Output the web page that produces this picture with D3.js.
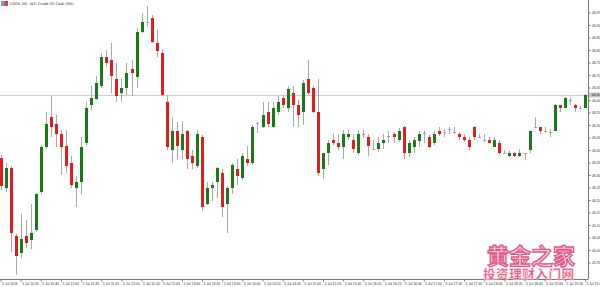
<!DOCTYPE html>
<html>
<head>
<meta charset="utf-8">
<script src="https://cdn.jsdelivr.net/npm/d3@7"></script>
<style>
  body { margin: 0; background: #fff; }
  svg { display: block; }
</style>
</head>
<body>
<div id="chart"></div>
<script>
// USOIL M5 candles (oldest first)
const opens = [
  46.368, 46.248, 46.328, 46.056, 45.988, 46.056, 46.040, 46.080, 46.232, 46.412,
  46.532, 46.504, 46.464, 46.416, 46.348, 46.248, 46.272, 46.428, 46.580, 46.604,
  46.656, 46.772, 46.760, 46.684, 46.628, 46.648, 46.724, 46.692, 46.872, 46.912,
  46.928, 46.828, 46.788, 46.592, 46.400, 46.476, 46.400, 46.476, 46.376, 46.336,
  46.452, 46.184, 46.248, 46.272, 46.308, 46.184, 46.248, 46.324, 46.288, 46.364,
  46.348, 46.508, 46.492, 46.552, 46.492, 46.552, 46.608, 46.568, 46.628, 46.580,
  46.552, 46.684, 46.648, 46.552, 46.324, 46.388, 46.440, 46.428, 46.412, 46.452,
  46.440, 46.388, 46.464, 46.452, 46.404, 46.404, 46.428, 46.456, 46.464, 46.440,
  46.492, 46.388, 46.412, 46.436, 46.468, 46.452, 46.428, 46.476, 46.472, 46.484,
  46.472, 46.464, 46.452, 46.440, 46.492, 46.452, 46.440, 46.440, 46.412, 46.428,
  46.388, 46.376, 46.388, 46.376, 46.388, 46.400, 46.492, 46.492, 46.476, 46.472,
  46.476, 46.580, 46.568, 46.600, 46.580, 46.568, 46.568
];
const highs = [
  46.380, 46.348, 46.336, 46.064, 46.144, 46.120, 46.184, 46.228, 46.420, 46.552,
  46.616, 46.540, 46.480, 46.480, 46.376, 46.296, 46.452, 46.592, 46.656, 46.696,
  46.788, 46.800, 46.828, 46.748, 46.684, 46.748, 46.760, 46.888, 46.948, 46.976,
  46.940, 46.880, 46.800, 46.620, 46.532, 46.512, 46.516, 46.480, 46.400, 46.480,
  46.460, 46.272, 46.272, 46.332, 46.324, 46.256, 46.348, 46.364, 46.388, 46.416,
  46.500, 46.512, 46.592, 46.592, 46.592, 46.616, 46.620, 46.656, 46.656, 46.600,
  46.680, 46.760, 46.656, 46.684, 46.388, 46.440, 46.464, 46.464, 46.480, 46.480,
  46.464, 46.480, 46.480, 46.464, 46.440, 46.452, 46.464, 46.476, 46.472, 46.488,
  46.496, 46.440, 46.452, 46.476, 46.476, 46.460, 46.476, 46.492, 46.484, 46.492,
  46.492, 46.472, 46.464, 46.452, 46.496, 46.464, 46.464, 46.452, 46.452, 46.440,
  46.400, 46.396, 46.392, 46.404, 46.388, 46.476, 46.532, 46.492, 46.492, 46.484,
  46.584, 46.580, 46.612, 46.608, 46.584, 46.576, 46.624
];
const lows = [
  46.240, 46.232, 45.992, 45.900, 45.968, 46.008, 46.004, 46.072, 46.224, 46.404,
  46.452, 46.412, 46.300, 46.308, 46.248, 46.172, 46.224, 46.420, 46.560, 46.600,
  46.648, 46.732, 46.628, 46.592, 46.592, 46.620, 46.616, 46.648, 46.868, 46.892,
  46.828, 46.772, 46.616, 46.400, 46.348, 46.360, 46.364, 46.324, 46.324, 46.328,
  46.156, 46.180, 46.196, 46.208, 46.132, 46.068, 46.224, 46.260, 46.280, 46.336,
  46.340, 46.468, 46.488, 46.492, 46.488, 46.540, 46.568, 46.552, 46.492, 46.492,
  46.500, 46.620, 46.548, 46.296, 46.284, 46.340, 46.420, 46.400, 46.364, 46.440,
  46.388, 46.380, 46.448, 46.376, 46.400, 46.392, 46.404, 46.428, 46.428, 46.432,
  46.364, 46.372, 46.388, 46.412, 46.428, 46.408, 46.420, 46.456, 46.452, 46.464,
  46.464, 46.440, 46.432, 46.400, 46.440, 46.448, 46.432, 46.428, 46.412, 46.384,
  46.384, 46.372, 46.372, 46.372, 46.360, 46.388, 46.488, 46.464, 46.468, 46.452,
  46.476, 46.552, 46.568, 46.580, 46.552, 46.560, 46.568
];
const closes = [
  46.256, 46.328, 46.068, 45.976, 46.044, 46.028, 46.068, 46.224, 46.412, 46.504,
  46.492, 46.464, 46.412, 46.336, 46.260, 46.272, 46.412, 46.568, 46.608, 46.668,
  46.772, 46.748, 46.696, 46.616, 46.648, 46.708, 46.708, 46.872, 46.912, 46.912,
  46.832, 46.796, 46.620, 46.412, 46.476, 46.416, 46.464, 46.364, 46.348, 46.464,
  46.172, 46.248, 46.260, 46.328, 46.172, 46.248, 46.340, 46.296, 46.376, 46.348,
  46.492, 46.508, 46.540, 46.504, 46.568, 46.592, 46.580, 46.644, 46.580, 46.540,
  46.668, 46.628, 46.552, 46.308, 46.388, 46.428, 46.428, 46.412, 46.464, 46.464,
  46.404, 46.464, 46.464, 46.416, 46.404, 46.428, 46.440, 46.456, 46.452, 46.476,
  46.388, 46.428, 46.440, 46.464, 46.468, 46.412, 46.464, 46.464, 46.472, 46.484,
  46.472, 46.452, 46.440, 46.412, 46.452, 46.452, 46.440, 46.428, 46.440, 46.388,
  46.388, 46.388, 46.376, 46.388, 46.388, 46.476, 46.492, 46.476, 46.476, 46.472,
  46.580, 46.568, 46.608, 46.600, 46.568, 46.568, 46.620
];

// price scale labels
const priceTicks = [
  45.95, 46.00, 46.05, 46.10, 46.15, 46.20, 46.25, 46.30, 46.35, 46.40, 46.45,
  46.50, 46.55, 46.60, 46.65, 46.70, 46.75, 46.80, 46.85, 46.90, 46.95
];
// time scale labels, one every 4 bars
const timeLabels = [
  "5 Jul 2016", "5 Jul 10:20", "5 Jul 10:40", "5 Jul 11:00", "5 Jul 11:20", "5 Jul 11:40",
  "5 Jul 12:00", "5 Jul 12:20", "5 Jul 12:40", "5 Jul 13:00", "5 Jul 13:20", "5 Jul 13:40",
  "5 Jul 14:00", "5 Jul 14:20", "5 Jul 14:40", "5 Jul 15:00", "5 Jul 15:20", "5 Jul 15:40",
  "5 Jul 16:00", "5 Jul 16:20", "5 Jul 16:40", "5 Jul 17:00", "5 Jul 17:20", "5 Jul 17:40",
  "5 Jul 18:00", "5 Jul 18:20", "5 Jul 18:40", "5 Jul 19:00", "5 Jul 19:20", "5 Jul 19:40"
];

const width = 600;
const height = 287;
const plotRight = 588;
const plotBottom = 279;
const green = "#1a7a1a";
const red = "#e01e1e";
const wickColor = "#a9a9a9";

const candles = opens.map((o, i) => ({i, o, h: highs[i], l: lows[i], c: closes[i]}));

const svg = d3.select("#chart")
  .append("svg")
  .attr("width", width)
  .attr("height", height)
  .style("font-family", "'DejaVu Sans', sans-serif");

// scales
const x = d3.scaleLinear()
  .domain([0, candles.length - 1])
  .range([0.5, 585]);

const y = d3.scaleLinear()
  .domain([47.0, 45.884])
  .range([0, plotBottom]);

const px = i => Math.round(x(i)) + 0.5;

// current price line
const last = closes[closes.length - 1];
svg.append("line")
  .attr("x1", 0).attr("x2", plotRight)
  .attr("y1", Math.round(y(last)) + 0.5).attr("y2", Math.round(y(last)) + 0.5)
  .attr("stroke", "#cfcfcf")
  .attr("stroke-width", 1);

// wicks
svg.append("g").selectAll("line")
  .data(candles)
  .enter()
  .append("line")
  .attr("x1", d => px(d.i))
  .attr("x2", d => px(d.i))
  .attr("y1", d => y(d.h))
  .attr("y2", d => y(d.l))
  .attr("stroke", wickColor)
  .attr("stroke-width", 1);

// bodies
svg.append("g").selectAll("rect")
  .data(candles.filter(d => d.o !== d.c))
  .enter()
  .append("rect")
  .attr("x", d => px(d.i) - 1.5)
  .attr("width", 3)
  .attr("y", d => y(Math.max(d.o, d.c)))
  .attr("height", d => Math.max(1, Math.abs(y(d.o) - y(d.c))))
  .attr("fill", d => d.c > d.o ? green : red);

// doji
svg.append("g").selectAll("line")
  .data(candles.filter(d => d.o === d.c))
  .enter()
  .append("line")
  .attr("x1", d => px(d.i) - 1.5)
  .attr("x2", d => px(d.i) + 1.5)
  .attr("y1", d => Math.round(y(d.o)) + 0.5)
  .attr("y2", d => Math.round(y(d.o)) + 0.5)
  .attr("stroke", wickColor)
  .attr("stroke-width", 1);

// right price axis
const yAxis = svg.append("g")
  .attr("transform", `translate(${plotRight + 0.5},0)`)
  .call(d3.axisRight(y).tickValues(priceTicks).tickFormat(d3.format(".2f")).tickSize(2).tickPadding(1.5));
yAxis.select(".domain").attr("d", `M0,0V${plotBottom}`).attr("stroke", "#777");
yAxis.selectAll(".tick line").attr("stroke", "#777");
yAxis.selectAll("text").attr("font-size", 3.4).attr("fill", "#333");

// current price box
svg.append("rect")
  .attr("x", plotRight + 1).attr("y", y(last) - 2.5)
  .attr("width", 12).attr("height", 5)
  .attr("fill", "#c8c8c8");
svg.append("text")
  .attr("x", plotRight + 3.5).attr("y", y(last) + 1.2)
  .attr("font-size", 3.4).attr("fill", "#222")
  .text(last.toFixed(2));

// bottom time axis
const tickIdx = timeLabels.map((t, k) => k * 4);
const xAxis = svg.append("g")
  .attr("transform", `translate(0,${plotBottom + 0.5})`)
  .call(d3.axisBottom(x).tickValues(tickIdx).tickFormat((d, k) => timeLabels[k]).tickSize(2).tickPadding(1));
xAxis.select(".domain").attr("d", `M0,0H${plotRight + 0.5}`).attr("stroke", "#777");
xAxis.selectAll(".tick line").attr("stroke", "#777");
xAxis.selectAll("text")
  .attr("font-size", 3.4).attr("fill", "#333")
  .attr("text-anchor", "start").attr("dx", 1);

// title with small flag icon
svg.append("rect").attr("x", 1).attr("y", 1).attr("width", 7).attr("height", 5).attr("fill", "#8a8fd8");
svg.append("rect").attr("x", 4.5).attr("y", 1).attr("width", 3.5).attr("height", 5).attr("fill", "#d84040");
svg.append("text")
  .attr("x", 10).attr("y", 4.8)
  .attr("font-size", 3.6).attr("fill", "#333")
  .text("USOIL,M5:  WTI Crude Oil Cash (M5)");

// watermark
svg.append("text")
  .attr("x", 487).attr("y", 264)
  .attr("font-family", "'Noto Sans CJK SC', sans-serif")
  .attr("font-weight", "bold")
  .attr("font-size", 22)
  .attr("textLength", 88)
  .attr("fill", "#f8d3df")
  .attr("stroke", "#e2578a")
  .attr("stroke-width", 1.3)
  .text("黄金之家");
svg.append("text")
  .attr("x", 483).attr("y", 279)
  .attr("font-family", "'Noto Sans CJK SC', sans-serif")
  .attr("font-weight", "bold")
  .attr("font-size", 12.5)
  .attr("textLength", 91)
  .attr("fill", "#ef3d66")
  .attr("stroke", "#fbd0dc")
  .attr("stroke-width", 0.5)
  .text("投资理财入门网");
</script>
</body>
</html>
